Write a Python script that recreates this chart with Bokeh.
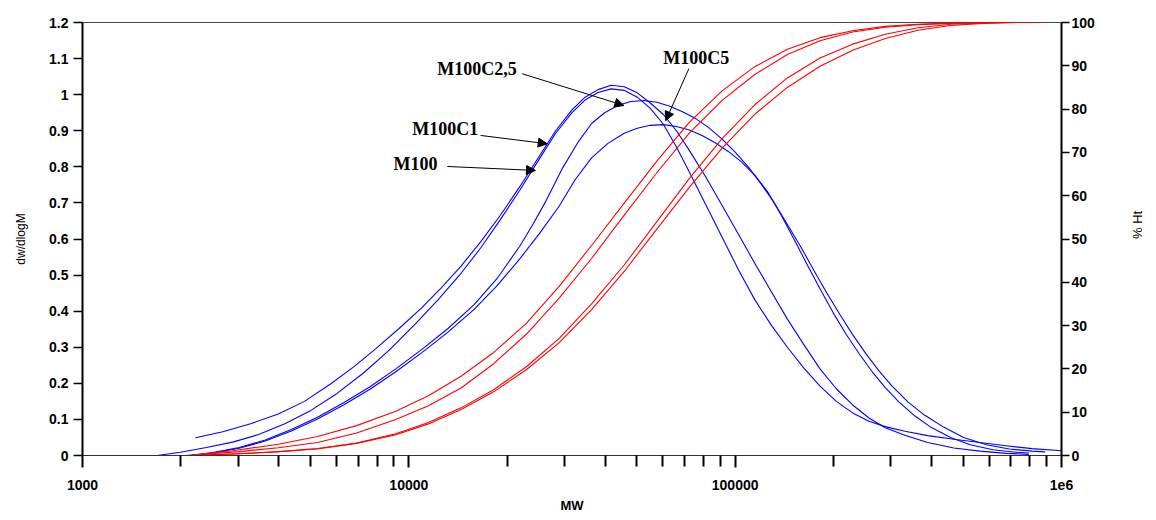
import math
from bokeh.plotting import figure
from bokeh.models import Range1d, LinearAxis, FixedTicker, Arrow, NormalHead
from bokeh.core.properties import value
from bokeh.embed import file_html
from bokeh.resources import INLINE

# ---------------- data ----------------
# dw/dlogM curves (left axis); x values given as log10(MW)
m100c1_logmw = [3.346, 3.43, 3.515, 3.60, 3.68, 3.76, 3.83, 3.90, 3.97, 4.04, 4.10, 4.16, 4.22,
                4.28, 4.34, 4.40, 4.45, 4.50, 4.54, 4.58, 4.62, 4.66, 4.70, 4.74, 4.78, 4.82, 4.86,
                4.91, 4.96, 5.01, 5.06, 5.11, 5.16, 5.21, 5.26, 5.31, 5.36, 5.41, 5.46, 5.52, 5.59,
                5.67, 5.75, 5.83, 5.90]
m100c1_dw = [0.049, 0.066, 0.088, 0.115, 0.150, 0.198, 0.245, 0.297, 0.352, 0.410, 0.465, 0.525, 0.592,
             0.665, 0.745, 0.830, 0.900, 0.958, 0.993, 1.014, 1.026, 1.022, 1.005, 0.977, 0.945, 0.900, 0.845,
             0.772, 0.693, 0.613, 0.533, 0.455, 0.378, 0.308, 0.240, 0.185, 0.140, 0.104, 0.077, 0.056, 0.036,
             0.021, 0.012, 0.006, 0.003]

m100_logmw = [3.229, 3.30, 3.38, 3.46, 3.54, 3.62, 3.70, 3.78, 3.86, 3.94, 4.02, 4.09, 4.16, 4.22,
              4.28, 4.34, 4.40, 4.45, 4.50, 4.54, 4.58, 4.62, 4.66, 4.70, 4.74, 4.78, 4.82, 4.86, 4.91,
              4.96, 5.01, 5.06, 5.11, 5.16, 5.21, 5.26, 5.31, 5.36, 5.41, 5.46, 5.52, 5.59, 5.67, 5.75,
              5.83, 5.91, 6.0]
m100_dw = [0.0, 0.009, 0.022, 0.037, 0.058, 0.088, 0.125, 0.172, 0.228, 0.292, 0.365, 0.432, 0.505, 0.575,
           0.653, 0.735, 0.822, 0.893, 0.950, 0.985, 1.006, 1.016, 1.012, 0.993, 0.962, 0.918, 0.855, 0.785, 0.695,
           0.605, 0.515, 0.432, 0.362, 0.300, 0.243, 0.192, 0.150, 0.118, 0.095, 0.080, 0.067, 0.055, 0.045, 0.036,
           0.027, 0.019, 0.013]

m100c25_logmw = [3.33, 3.40, 3.48, 3.56, 3.64, 3.72, 3.80, 3.88, 3.96, 4.04, 4.12, 4.20, 4.27, 4.34,
                 4.38, 4.42, 4.47, 4.52, 4.56, 4.60, 4.64, 4.68, 4.72, 4.76, 4.80, 4.84, 4.88, 4.92, 4.96,
                 5.00, 5.04, 5.08, 5.12, 5.16, 5.20, 5.24, 5.28, 5.32, 5.36, 5.40, 5.44, 5.48, 5.53, 5.58,
                 5.64, 5.70, 5.77, 5.84, 5.91, 5.95]
m100c25_dw = [0.0, 0.008, 0.022, 0.043, 0.072, 0.106, 0.146, 0.190, 0.240, 0.294, 0.352, 0.418, 0.490, 0.580,
              0.640, 0.705, 0.795, 0.870, 0.920, 0.950, 0.970, 0.981, 0.984, 0.979, 0.968, 0.952, 0.933, 0.908, 0.877,
              0.841, 0.800, 0.752, 0.700, 0.640, 0.580, 0.515, 0.452, 0.392, 0.335, 0.283, 0.235, 0.193, 0.148, 0.112,
              0.078, 0.050, 0.030, 0.018, 0.012, 0.010]

m100c5_logmw = [3.33, 3.40, 3.48, 3.56, 3.64, 3.72, 3.80, 3.88, 3.96, 4.04, 4.12, 4.20, 4.27, 4.34,
                4.40, 4.46, 4.51, 4.56, 4.61, 4.66, 4.70, 4.74, 4.78, 4.82, 4.86, 4.90, 4.94, 4.98, 5.02,
                5.06, 5.10, 5.14, 5.18, 5.22, 5.26, 5.30, 5.34, 5.38, 5.42, 5.46, 5.50, 5.55, 5.60, 5.66,
                5.72, 5.79, 5.86, 5.90]
m100c5_dw = [0.0, 0.007, 0.020, 0.040, 0.068, 0.101, 0.140, 0.183, 0.232, 0.285, 0.342, 0.405, 0.470, 0.545,
             0.615, 0.690, 0.765, 0.825, 0.865, 0.893, 0.907, 0.915, 0.917, 0.912, 0.902, 0.886, 0.866, 0.842, 0.813,
             0.777, 0.730, 0.668, 0.600, 0.530, 0.462, 0.396, 0.336, 0.282, 0.232, 0.188, 0.150, 0.110, 0.078, 0.050,
             0.030, 0.016, 0.009, 0.007]

# cumulative % Ht curves (right axis)
ht_m100c1_logmw = [3.32, 3.46, 3.60, 3.72, 3.84, 3.96, 4.06, 4.16, 4.26, 4.36, 4.46, 4.56, 4.66, 4.76,
                   4.86, 4.96, 5.06, 5.16, 5.26, 5.36, 5.46, 5.56, 5.66, 5.76, 5.90]
ht_m100c1 = [0, 1.1, 2.6, 4.4, 6.9, 10.2, 13.8, 18.3, 23.8, 30.5, 39.0, 48.5, 58.3, 68.0,
             77.0, 84.2, 89.8, 93.8, 96.5, 98.1, 99.1, 99.6, 99.85, 100, 100]

ht_m100_logmw = [3.32, 3.48, 3.60, 3.72, 3.84, 3.96, 4.06, 4.16, 4.26, 4.36, 4.46, 4.56, 4.66, 4.76,
                 4.86, 4.96, 5.06, 5.16, 5.26, 5.36, 5.46, 5.56, 5.66, 5.76, 5.90]
ht_m100 = [0, 0.9, 1.8, 3.0, 5.2, 8.3, 11.5, 15.6, 21.2, 28.0, 36.3, 45.5, 55.5, 65.3,
           74.5, 82.0, 88.0, 92.6, 95.8, 97.8, 98.9, 99.5, 99.8, 100, 100]

ht_m100c25_logmw = [3.33, 3.48, 3.60, 3.72, 3.84, 3.96, 4.06, 4.16, 4.26, 4.36, 4.46, 4.56, 4.66, 4.76,
                    4.86, 4.96, 5.06, 5.16, 5.26, 5.36, 5.46, 5.56, 5.66, 5.76, 5.86]
ht_m100c25 = [0, 0.4, 0.9, 1.6, 2.9, 5.0, 7.6, 11.0, 15.2, 20.5, 27.0, 35.0, 44.0, 54.0,
              64.0, 73.2, 81.0, 87.2, 91.8, 95.0, 97.3, 98.8, 99.6, 99.9, 100]

ht_m100c5_logmw = [3.33, 3.48, 3.60, 3.72, 3.84, 3.96, 4.06, 4.16, 4.26, 4.36, 4.46, 4.56, 4.66, 4.76,
                   4.86, 4.96, 5.06, 5.16, 5.26, 5.36, 5.46, 5.56, 5.66, 5.76, 5.86, 5.95]
ht_m100c5 = [0, 0.4, 0.85, 1.5, 2.8, 4.8, 7.3, 10.6, 14.7, 19.8, 26.0, 33.7, 42.5, 52.3,
             62.0, 71.0, 78.8, 85.0, 89.9, 93.6, 96.3, 98.2, 99.3, 99.8, 100, 100]

# ticks
x_major_ticks = [1000, 10000, 100000, 1000000]
x_major_labels = ["1000", "10000", "100000", "1e6"]
x_minor_ticks = [m * d for d in (1000, 10000, 100000) for m in range(2, 10)]
y_ticks = [0.0, 0.1, 0.2, 0.3, 0.4, 0.5, 0.6, 0.7, 0.8, 0.9, 1.0, 1.1, 1.2]
y_labels = ["0", "0.1", "0.2", "0.3", "0.4", "0.5", "0.6", "0.7", "0.8", "0.9", "1", "1.1", "1.2"]
pct_ticks = [0, 10, 20, 30, 40, 50, 60, 70, 80, 90, 100]

# annotations (label, label anchor, arrow tail, arrow tip) in data units
ann_labels = ["M100", "M100C1", "M100C2,5", "M100C5"]
ann_text_mw = [8970, 10240, 12220, 60210]
ann_text_y = [0.807, 0.904, 1.070, 1.103]
ann_tail_mw = [13120, 16590, 22260, 72150]
ann_tail_y = [0.801, 0.887, 1.058, 1.072]
ann_tip_mw = [24440, 26550, 45600, 61250]
ann_tip_y = [0.790, 0.864, 0.970, 0.928]

# ---------------- figure ----------------
p = figure(width=1156, height=520, x_axis_type="log",
           x_range=Range1d(1000, 1000000), y_range=Range1d(0, 1.2),
           output_backend="svg", toolbar_location=None,
           min_border_left=82, min_border_right=95, min_border_top=22, min_border_bottom=65)
p.extra_y_ranges = {"pct": Range1d(0, 100)}
p.background_fill_color = "white"
p.border_fill_color = "white"
p.outline_line_color = "#444444"
p.outline_line_width = 1
p.xgrid.visible = False
p.ygrid.visible = False

blue = "#0000ff"
red = "#ff0000"

for lx, ly in [(m100c1_logmw, m100c1_dw), (m100_logmw, m100_dw),
               (m100c25_logmw, m100c25_dw), (m100c5_logmw, m100c5_dw)]:
    p.line([10 ** v for v in lx], ly, line_color=blue, line_width=1.1, line_join="round")

for lx, ly in [(ht_m100c1_logmw, ht_m100c1), (ht_m100_logmw, ht_m100),
               (ht_m100c25_logmw, ht_m100c25), (ht_m100c5_logmw, ht_m100c5)]:
    p.line([10 ** v for v in lx], ly, line_color=red, line_width=1.1, line_join="round",
           y_range_name="pct")

# annotations
p.text(x=ann_text_mw, y=ann_text_y, text=ann_labels,
       text_font=value("Liberation Serif"), text_font_style="bold",
       text_font_size="18px", text_baseline="middle", text_align="left", text_color="black")
for i in range(len(ann_labels)):
    p.add_layout(Arrow(end=NormalHead(size=9, fill_color="black", line_color="black", line_width=1),
                       x_start=ann_tail_mw[i], y_start=ann_tail_y[i],
                       x_end=ann_tip_mw[i], y_end=ann_tip_y[i],
                       line_color="black", line_width=1))

# x axis
xa = p.xaxis[0]
xa.ticker = FixedTicker(ticks=x_major_ticks, minor_ticks=x_minor_ticks)
xa.major_label_overrides = dict(zip(x_major_ticks, x_major_labels))
xa.axis_label = "MW"
xa.axis_line_color = "#333333"
xa.axis_line_width = 1
xa.major_tick_line_color = "black"
xa.major_tick_line_width = 2
xa.major_tick_out = 12
xa.major_tick_in = 0
xa.minor_tick_line_color = "black"
xa.minor_tick_line_width = 2
xa.minor_tick_out = 11
xa.minor_tick_in = 0
xa.major_label_standoff = 12
xa.axis_label_standoff = 5

# left y axis
ya = p.yaxis[0]
ya.ticker = FixedTicker(ticks=y_ticks)
ya.major_label_overrides = dict(zip(y_ticks, y_labels))
ya.axis_label = "dw/dlogM"
ya.axis_line_color = "black"
ya.axis_line_width = 2
ya.major_tick_line_color = "black"
ya.major_tick_line_width = 1.5
ya.major_tick_out = 9
ya.major_tick_in = 0
ya.minor_tick_line_color = None
ya.major_label_standoff = 5
ya.axis_label_standoff = 18

# right y axis
ra = LinearAxis(y_range_name="pct", ticker=FixedTicker(ticks=pct_ticks), axis_label="% Ht")
ra.axis_line_color = "black"
ra.axis_line_width = 2
ra.major_tick_line_color = "black"
ra.major_tick_line_width = 1.5
ra.major_tick_out = 8
ra.major_tick_in = 0
ra.minor_tick_line_color = None
ra.major_label_standoff = 2
ra.axis_label_standoff = 40
if "axis_label_orientation" in ra.properties():
    ra.axis_label_orientation = math.pi / 2
p.add_layout(ra, "right")

for ax in (xa, ya, ra):
    ax.major_label_text_font = "Liberation Sans"
    ax.major_label_text_font_style = "bold"
    ax.major_label_text_font_size = "14px"
    ax.major_label_text_color = "black"
    ax.axis_label_text_font = "Liberation Sans"
    ax.axis_label_text_color = "black"
    ax.axis_label_text_font_style = "normal"
    ax.axis_label_text_font_size = "12px"
xa.axis_label_text_font_style = "bold"
xa.axis_label_text_font_size = "13px"
ra.axis_label_text_font_size = "13px"

open("out.html", "w").write(file_html(p, INLINE))
